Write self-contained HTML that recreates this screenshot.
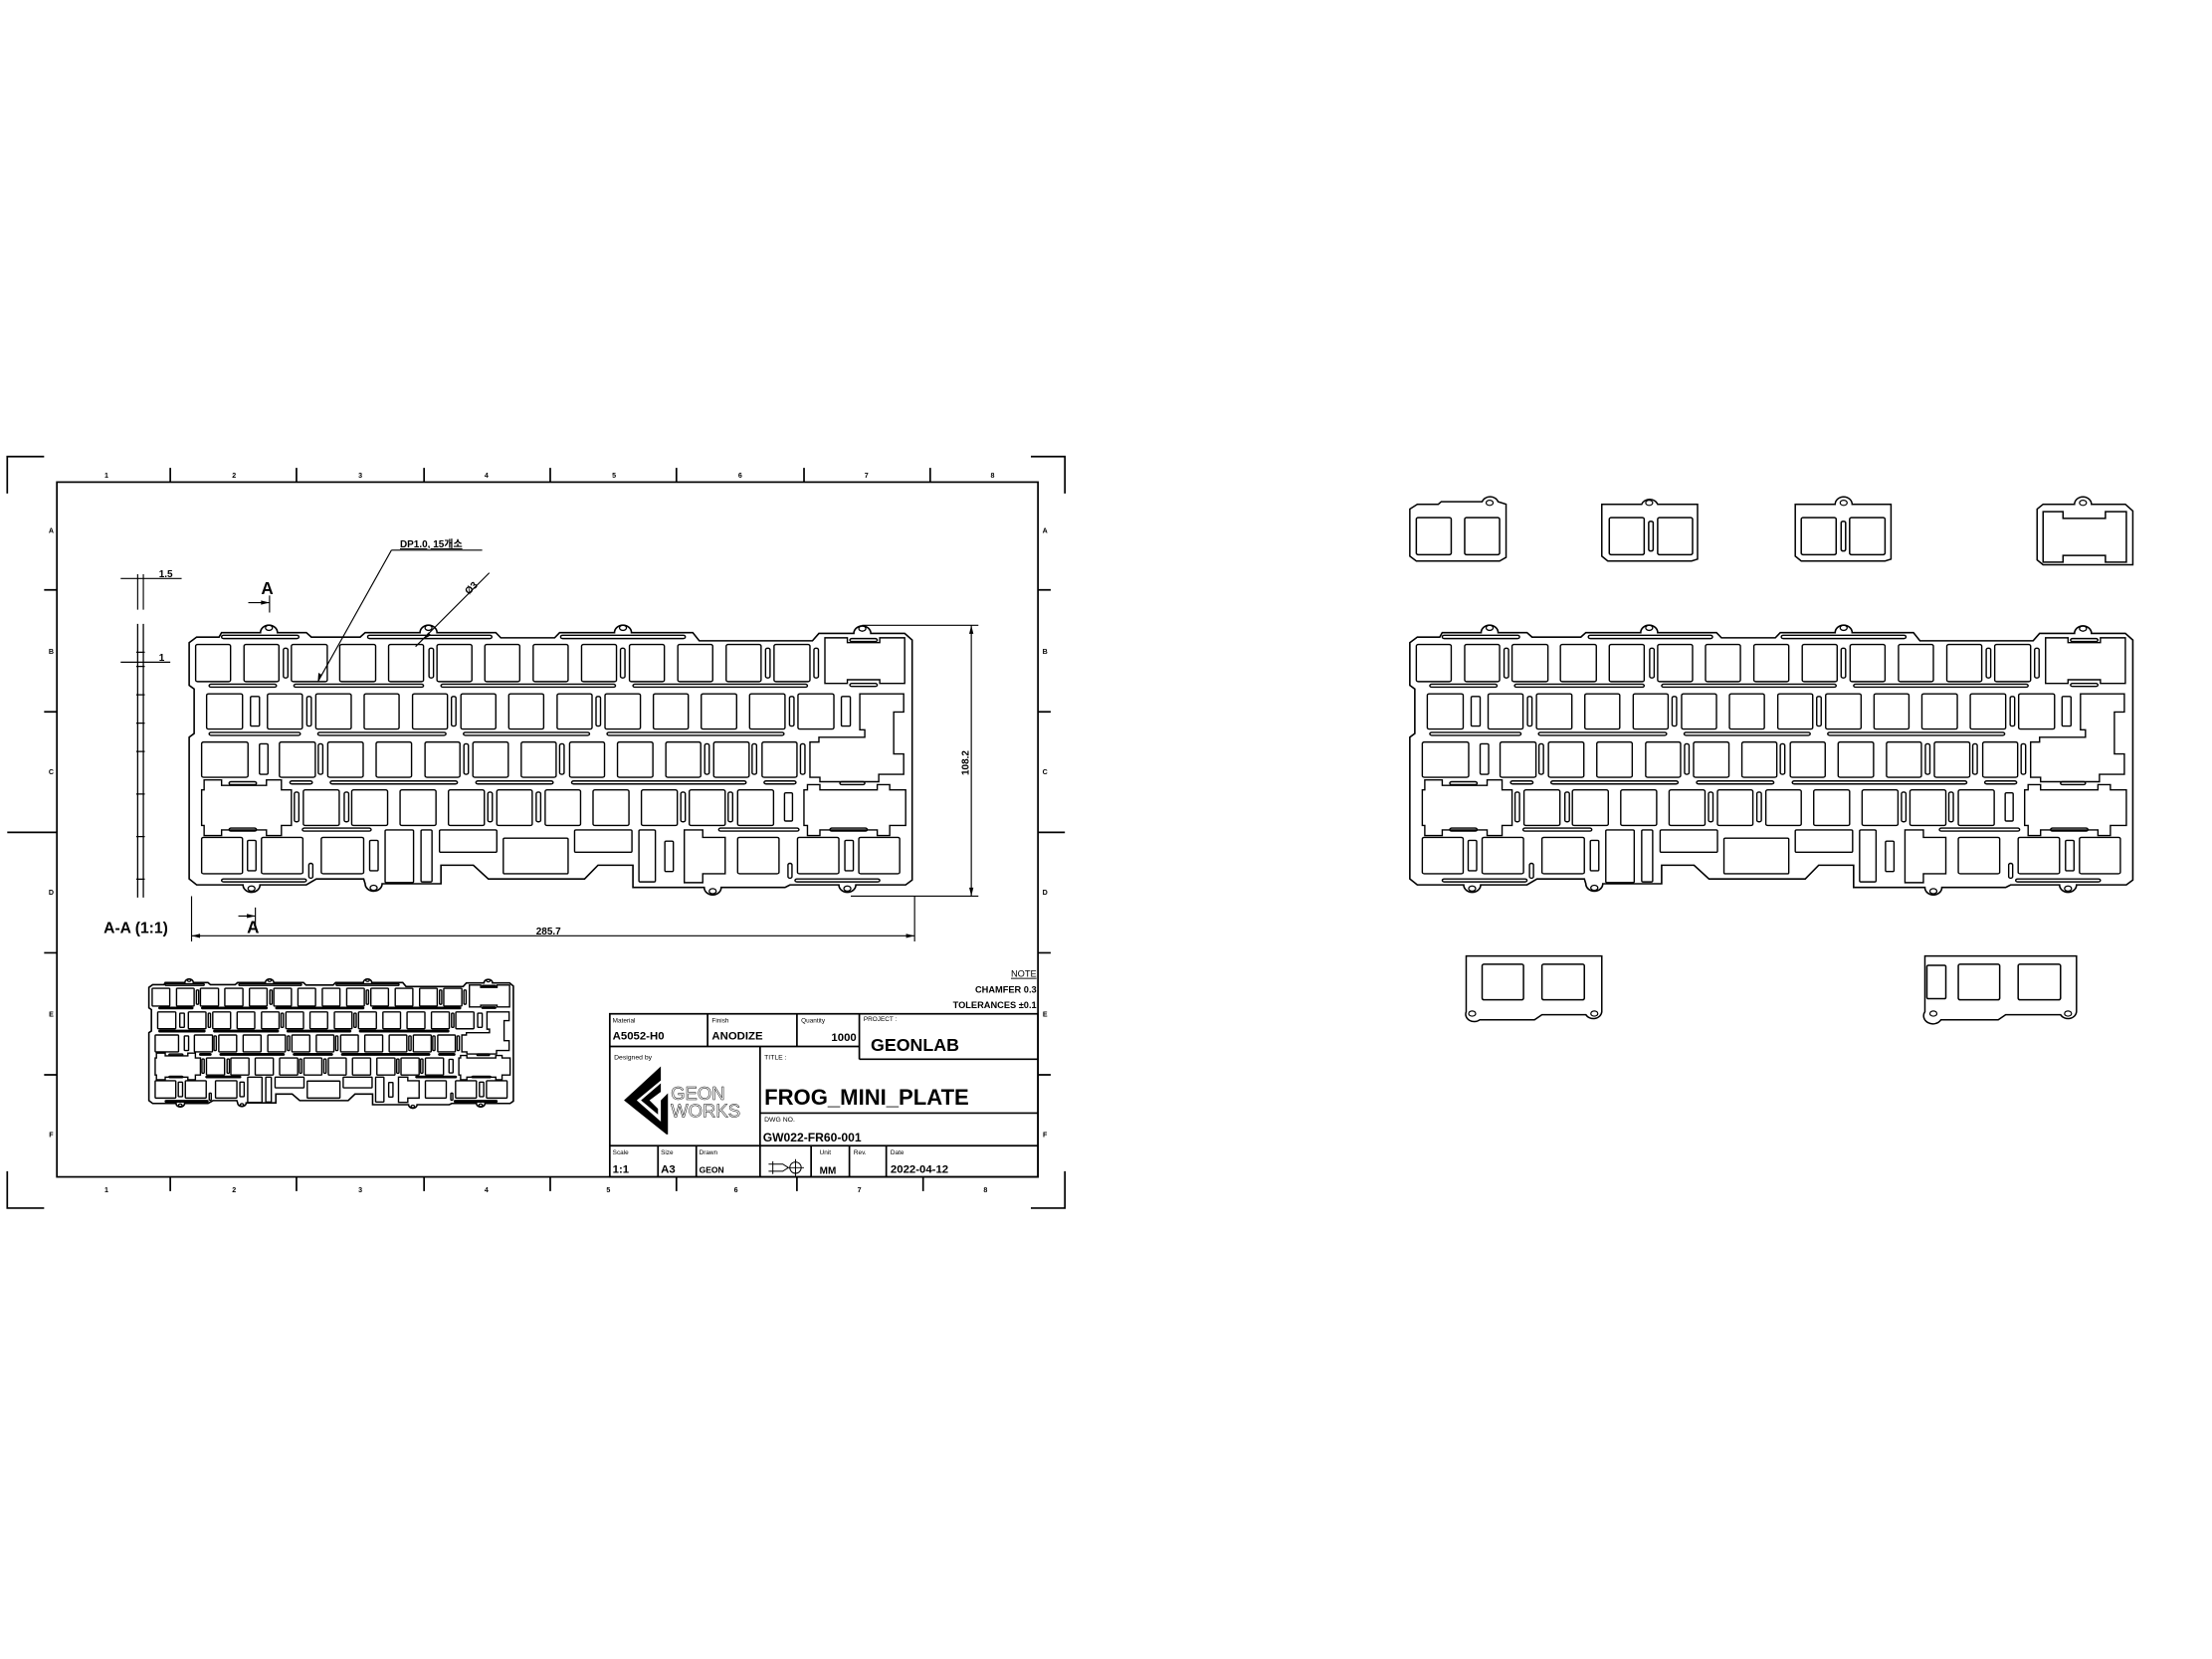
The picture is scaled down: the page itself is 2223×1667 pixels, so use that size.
<!DOCTYPE html>
<html><head><meta charset="utf-8"><style>
html,body{margin:0;padding:0;background:#fff;}
svg{display:block;}
text{font-family:"Liberation Sans","Noto Sans CJK KR",sans-serif;fill:#000;}
.b{font-weight:bold;}
</style></head><body>
<svg width="2223" height="1667" viewBox="0 0 1560 1170" xmlns="http://www.w3.org/2000/svg">
<defs>
<g id="plate" fill="none" stroke="#000">
<path vector-effect="non-scaling-stroke" stroke-width="1.6" d="M35,445 L50,430 L95,430 L100,418 L178,418 A17 20 0 0 1 212,418 L270,418 L280,430 L378,430 L388,418 L498,418 A17 20 0 0 1 532,418 L650,418 L660,432 L768,432 L778,418 L888,418 A17 20 0 0 1 922,418 L1045,418 L1058,440 L1285,440 L1298,420 L1368,420 A17 20 0 0 1 1402,420 L1470,420 L1485,438 L1485,1085 L1472,1098 L1372,1098 A17 20 0 0 1 1338,1098 L1240,1098 L1230,1105 L1102,1105 A17 20 0 0 1 1068,1105 L925,1105 L925,1045 L855,1045 L828,1082 L635,1082 L605,1045 L540,1045 L540,1095 L422,1095 A17 20 0 0 1 388,1095 L385,1082 L290,1082 L270,1098 L177,1098 A17 20 0 0 1 143,1098 L50,1098 L35,1082 L35,700 L45,690 L45,570 L35,560 Z"/>
<g vector-effect="non-scaling-stroke" stroke-width="1.3">
<circle vector-effect="non-scaling-stroke" cx="195" cy="405" r="7"/><circle vector-effect="non-scaling-stroke" cx="515" cy="405" r="7"/><circle vector-effect="non-scaling-stroke" cx="905" cy="405" r="7"/><circle vector-effect="non-scaling-stroke" cx="1385" cy="407" r="7"/>
<circle vector-effect="non-scaling-stroke" cx="160" cy="1108" r="7"/><circle vector-effect="non-scaling-stroke" cx="405" cy="1106" r="7"/><circle vector-effect="non-scaling-stroke" cx="1085" cy="1115" r="7"/><circle vector-effect="non-scaling-stroke" cx="1355" cy="1108" r="7"/>
</g>
<g stroke-width="1.4">
<rect vector-effect="non-scaling-stroke" x="48" y="450" width="70" height="100" rx="4"/><rect vector-effect="non-scaling-stroke" x="145" y="450" width="70" height="100" rx="4"/><rect vector-effect="non-scaling-stroke" x="240" y="450" width="72" height="100" rx="4"/><rect vector-effect="non-scaling-stroke" x="337" y="450" width="72" height="100" rx="4"/><rect vector-effect="non-scaling-stroke" x="435" y="450" width="70" height="100" rx="4"/><rect vector-effect="non-scaling-stroke" x="532" y="450" width="70" height="100" rx="4"/><rect vector-effect="non-scaling-stroke" x="628" y="450" width="70" height="100" rx="4"/><rect vector-effect="non-scaling-stroke" x="725" y="450" width="70" height="100" rx="4"/><rect vector-effect="non-scaling-stroke" x="822" y="450" width="70" height="100" rx="4"/><rect vector-effect="non-scaling-stroke" x="918" y="450" width="70" height="100" rx="4"/><rect vector-effect="non-scaling-stroke" x="1015" y="450" width="70" height="100" rx="4"/><rect vector-effect="non-scaling-stroke" x="1112" y="450" width="70" height="100" rx="4"/><rect vector-effect="non-scaling-stroke" x="1208" y="450" width="72" height="100" rx="4"/>
<polygon vector-effect="non-scaling-stroke" points="1310,432 1355,432 1355,445 1420,445 1420,432 1470,432 1470,555 1420,555 1420,545 1355,545 1355,555 1310,555"/>
<rect vector-effect="non-scaling-stroke" x="224" y="460" width="9" height="80" rx="4"/><rect vector-effect="non-scaling-stroke" x="516" y="460" width="9" height="80" rx="4"/><rect vector-effect="non-scaling-stroke" x="900" y="460" width="9" height="80" rx="4"/><rect vector-effect="non-scaling-stroke" x="1191" y="460" width="9" height="80" rx="4"/><rect vector-effect="non-scaling-stroke" x="1288" y="460" width="9" height="80" rx="4"/>
<rect vector-effect="non-scaling-stroke" x="70" y="583" width="72" height="95" rx="4"/><rect vector-effect="non-scaling-stroke" x="192" y="583" width="70" height="95" rx="4"/><rect vector-effect="non-scaling-stroke" x="289" y="583" width="71" height="95" rx="4"/><rect vector-effect="non-scaling-stroke" x="386" y="583" width="70" height="95" rx="4"/><rect vector-effect="non-scaling-stroke" x="483" y="583" width="70" height="95" rx="4"/><rect vector-effect="non-scaling-stroke" x="580" y="583" width="70" height="95" rx="4"/><rect vector-effect="non-scaling-stroke" x="676" y="583" width="70" height="95" rx="4"/><rect vector-effect="non-scaling-stroke" x="773" y="583" width="70" height="95" rx="4"/><rect vector-effect="non-scaling-stroke" x="869" y="583" width="71" height="95" rx="4"/><rect vector-effect="non-scaling-stroke" x="966" y="583" width="70" height="95" rx="4"/><rect vector-effect="non-scaling-stroke" x="1062" y="583" width="71" height="95" rx="4"/><rect vector-effect="non-scaling-stroke" x="1159" y="583" width="71" height="95" rx="4"/><rect vector-effect="non-scaling-stroke" x="1256" y="583" width="72" height="95" rx="4"/>
<rect vector-effect="non-scaling-stroke" x="158" y="590" width="18" height="80" rx="3"/><rect vector-effect="non-scaling-stroke" x="271" y="590" width="9" height="80" rx="4"/><rect vector-effect="non-scaling-stroke" x="561" y="590" width="9" height="80" rx="4"/><rect vector-effect="non-scaling-stroke" x="851" y="590" width="9" height="80" rx="4"/><rect vector-effect="non-scaling-stroke" x="1239" y="590" width="9" height="80" rx="4"/><rect vector-effect="non-scaling-stroke" x="1343" y="590" width="18" height="80" rx="3"/>
<polygon vector-effect="non-scaling-stroke" points="1380,583 1468,583 1468,632 1448,632 1448,745 1468,745 1468,800 1418,800 1418,820 1300,820 1300,808 1280,808 1280,713 1298,713 1298,700 1390,700 1390,680 1380,680"/>
<rect vector-effect="non-scaling-stroke" x="60" y="713" width="93" height="95" rx="4"/><rect vector-effect="non-scaling-stroke" x="216" y="713" width="72" height="95" rx="4"/><rect vector-effect="non-scaling-stroke" x="313" y="713" width="71" height="95" rx="4"/><rect vector-effect="non-scaling-stroke" x="410" y="713" width="71" height="95" rx="4"/><rect vector-effect="non-scaling-stroke" x="508" y="713" width="70" height="95" rx="4"/><rect vector-effect="non-scaling-stroke" x="604" y="713" width="71" height="95" rx="4"/><rect vector-effect="non-scaling-stroke" x="701" y="713" width="70" height="95" rx="4"/><rect vector-effect="non-scaling-stroke" x="798" y="713" width="70" height="95" rx="4"/><rect vector-effect="non-scaling-stroke" x="894" y="713" width="71" height="95" rx="4"/><rect vector-effect="non-scaling-stroke" x="991" y="713" width="70" height="95" rx="4"/><rect vector-effect="non-scaling-stroke" x="1087" y="713" width="71" height="95" rx="4"/><rect vector-effect="non-scaling-stroke" x="1184" y="713" width="70" height="95" rx="4"/>
<rect vector-effect="non-scaling-stroke" x="176" y="718" width="17" height="82" rx="3"/><rect vector-effect="non-scaling-stroke" x="294" y="718" width="9" height="82" rx="4"/><rect vector-effect="non-scaling-stroke" x="586" y="718" width="9" height="82" rx="4"/><rect vector-effect="non-scaling-stroke" x="778" y="718" width="9" height="82" rx="4"/><rect vector-effect="non-scaling-stroke" x="1069" y="718" width="9" height="82" rx="4"/><rect vector-effect="non-scaling-stroke" x="1164" y="718" width="9" height="82" rx="4"/><rect vector-effect="non-scaling-stroke" x="1261" y="718" width="9" height="82" rx="4"/>
<polygon vector-effect="non-scaling-stroke" points="65,815 100,815 100,830 190,830 190,815 220,815 220,842 240,842 240,938 220,938 220,965 190,965 190,950 100,950 100,965 65,965 65,938 60,938 60,842 65,842"/>
<rect vector-effect="non-scaling-stroke" x="264" y="842" width="72" height="96" rx="4"/><rect vector-effect="non-scaling-stroke" x="361" y="842" width="72" height="96" rx="4"/><rect vector-effect="non-scaling-stroke" x="458" y="842" width="72" height="96" rx="4"/><rect vector-effect="non-scaling-stroke" x="555" y="842" width="72" height="96" rx="4"/><rect vector-effect="non-scaling-stroke" x="652" y="842" width="71" height="96" rx="4"/><rect vector-effect="non-scaling-stroke" x="749" y="842" width="71" height="96" rx="4"/><rect vector-effect="non-scaling-stroke" x="845" y="842" width="72" height="96" rx="4"/><rect vector-effect="non-scaling-stroke" x="942" y="842" width="72" height="96" rx="4"/><rect vector-effect="non-scaling-stroke" x="1038" y="842" width="72" height="96" rx="4"/><rect vector-effect="non-scaling-stroke" x="1135" y="842" width="72" height="96" rx="4"/>
<rect vector-effect="non-scaling-stroke" x="246" y="848" width="9" height="80" rx="4"/><rect vector-effect="non-scaling-stroke" x="346" y="848" width="9" height="80" rx="4"/><rect vector-effect="non-scaling-stroke" x="634" y="848" width="9" height="80" rx="4"/><rect vector-effect="non-scaling-stroke" x="731" y="848" width="9" height="80" rx="4"/><rect vector-effect="non-scaling-stroke" x="1021" y="848" width="9" height="80" rx="4"/><rect vector-effect="non-scaling-stroke" x="1116" y="848" width="9" height="80" rx="4"/><rect vector-effect="non-scaling-stroke" x="1229" y="850" width="16" height="76" rx="3"/>
<polygon vector-effect="non-scaling-stroke" points="1275,828 1300,828 1300,842 1415,842 1415,828 1440,828 1440,842 1472,842 1472,938 1440,938 1440,965 1415,965 1415,950 1300,950 1300,965 1275,965 1275,938 1268,938 1268,842 1275,842"/>
<rect vector-effect="non-scaling-stroke" x="60" y="970" width="82" height="98" rx="4"/><rect vector-effect="non-scaling-stroke" x="180" y="970" width="83" height="98" rx="4"/><rect vector-effect="non-scaling-stroke" x="300" y="970" width="85" height="98" rx="4"/><rect vector-effect="non-scaling-stroke" x="1135" y="970" width="83" height="98" rx="4"/><rect vector-effect="non-scaling-stroke" x="1255" y="970" width="83" height="98" rx="4"/><rect vector-effect="non-scaling-stroke" x="1378" y="970" width="82" height="98" rx="4"/>
<rect vector-effect="non-scaling-stroke" x="152" y="978" width="17" height="82" rx="3"/><rect vector-effect="non-scaling-stroke" x="397" y="978" width="17" height="82" rx="3"/><rect vector-effect="non-scaling-stroke" x="1350" y="978" width="17" height="82" rx="3"/><rect vector-effect="non-scaling-stroke" x="989" y="980" width="17" height="82" rx="3"/>
<rect vector-effect="non-scaling-stroke" x="428" y="950" width="57" height="142" rx="3"/><rect vector-effect="non-scaling-stroke" x="500" y="950" width="22" height="140" rx="3"/><rect vector-effect="non-scaling-stroke" x="537" y="950" width="115" height="60" rx="3"/><rect vector-effect="non-scaling-stroke" x="665" y="972" width="130" height="96" rx="3"/><rect vector-effect="non-scaling-stroke" x="808" y="950" width="115" height="60" rx="3"/><rect vector-effect="non-scaling-stroke" x="937" y="950" width="33" height="140" rx="3"/>
<polygon vector-effect="non-scaling-stroke" points="1028,950 1065,950 1065,970 1110,970 1110,1068 1065,1068 1065,1092 1028,1092"/>
<rect vector-effect="non-scaling-stroke" x="100" y="425" width="155" height="9" rx="4"/><rect vector-effect="non-scaling-stroke" x="393" y="425" width="249" height="9" rx="4"/><rect vector-effect="non-scaling-stroke" x="780" y="425" width="250" height="9" rx="4"/><rect vector-effect="non-scaling-stroke" x="1360" y="434" width="55" height="8" rx="4"/>
<rect vector-effect="non-scaling-stroke" x="75" y="557" width="135" height="8" rx="4"/><rect vector-effect="non-scaling-stroke" x="245" y="557" width="260" height="8" rx="4"/><rect vector-effect="non-scaling-stroke" x="540" y="557" width="350" height="8" rx="4"/><rect vector-effect="non-scaling-stroke" x="925" y="557" width="350" height="8" rx="4"/><rect vector-effect="non-scaling-stroke" x="1360" y="555" width="55" height="8" rx="4"/>
<rect vector-effect="non-scaling-stroke" x="75" y="687" width="183" height="8" rx="4"/><rect vector-effect="non-scaling-stroke" x="293" y="687" width="257" height="8" rx="4"/><rect vector-effect="non-scaling-stroke" x="585" y="687" width="253" height="8" rx="4"/><rect vector-effect="non-scaling-stroke" x="873" y="687" width="355" height="8" rx="4"/>
<rect vector-effect="non-scaling-stroke" x="115" y="820" width="55" height="8" rx="4"/><rect vector-effect="non-scaling-stroke" x="237" y="818" width="45" height="8" rx="4"/><rect vector-effect="non-scaling-stroke" x="318" y="818" width="255" height="8" rx="4"/><rect vector-effect="non-scaling-stroke" x="610" y="818" width="155" height="8" rx="4"/><rect vector-effect="non-scaling-stroke" x="802" y="818" width="350" height="8" rx="4"/><rect vector-effect="non-scaling-stroke" x="1188" y="818" width="64" height="8" rx="4"/><rect vector-effect="non-scaling-stroke" x="1340" y="820" width="50" height="8" rx="4"/>
<rect vector-effect="non-scaling-stroke" x="115" y="945" width="55" height="8" rx="4"/><rect vector-effect="non-scaling-stroke" x="262" y="945" width="138" height="8" rx="4"/><rect vector-effect="non-scaling-stroke" x="1097" y="945" width="161" height="8" rx="4"/><rect vector-effect="non-scaling-stroke" x="1320" y="945" width="75" height="8" rx="4"/>
<rect vector-effect="non-scaling-stroke" x="100" y="1082" width="170" height="8" rx="4"/><rect vector-effect="non-scaling-stroke" x="1250" y="1082" width="170" height="8" rx="4"/>
<rect vector-effect="non-scaling-stroke" x="275" y="1040" width="8" height="40" rx="4"/><rect vector-effect="non-scaling-stroke" x="1236" y="1040" width="8" height="40" rx="4"/>
</g>
</g>
</defs>

<use href="#plate" transform="translate(982,336.8) scale(0.3517,0.2616)"/>
<g transform="translate(982,336.8) scale(0.3517,0.2616)" fill="none" stroke="#000">
<g stroke-width="1.5">
<path vector-effect="non-scaling-stroke" d="M35,85 L50,72 L92,72 L98,65 L180,65 A17 20 0 0 1 212,65 L228,72 L228,215 L215,225 L48,225 L35,212 Z"/>
<rect vector-effect="non-scaling-stroke" x="48" y="108" width="70" height="100" rx="4"/><rect vector-effect="non-scaling-stroke" x="145" y="108" width="70" height="100" rx="4"/>
<path vector-effect="non-scaling-stroke" d="M420,72 L500,72 A17 20 0 0 1 532,72 L612,72 L612,220 L600,225 L432,225 L420,212 Z"/>
<rect vector-effect="non-scaling-stroke" x="435" y="108" width="70" height="100" rx="4"/><rect vector-effect="non-scaling-stroke" x="532" y="108" width="70" height="100" rx="4"/><rect vector-effect="non-scaling-stroke" x="514" y="118" width="9" height="80" rx="4"/>
<path vector-effect="non-scaling-stroke" d="M808,72 L888,72 A17 20 0 0 1 922,72 L1000,72 L1000,220 L988,225 L820,225 L808,212 Z"/>
<rect vector-effect="non-scaling-stroke" x="820" y="108" width="70" height="100" rx="4"/><rect vector-effect="non-scaling-stroke" x="917" y="108" width="71" height="100" rx="4"/><rect vector-effect="non-scaling-stroke" x="900" y="118" width="9" height="80" rx="4"/>
<path vector-effect="non-scaling-stroke" d="M1293,85 L1305,72 L1368,72 A17 20 0 0 1 1402,72 L1470,72 L1485,90 L1485,235 L1305,235 L1293,222 Z"/>
<polygon vector-effect="non-scaling-stroke" points="1305,92 1345,92 1345,110 1430,110 1430,92 1472,92 1472,228 1430,228 1430,210 1345,210 1345,228 1305,228"/>
<path vector-effect="non-scaling-stroke" d="M148,1290 L420,1290 L420,1440 A17 20 0 0 1 388,1448 L300,1448 L285,1462 L175,1462 A17 20 0 0 1 148,1440 Z"/>
<rect vector-effect="non-scaling-stroke" x="180" y="1312" width="83" height="96" rx="4"/><rect vector-effect="non-scaling-stroke" x="300" y="1312" width="85" height="96" rx="4"/>
<path vector-effect="non-scaling-stroke" d="M1068,1290 L1372,1290 L1372,1440 A17 20 0 0 1 1340,1448 L1230,1448 L1215,1462 L1100,1462 A17 20 0 0 1 1068,1440 Z"/>
<rect vector-effect="non-scaling-stroke" x="1072" y="1315" width="38" height="90" rx="3"/><rect vector-effect="non-scaling-stroke" x="1135" y="1312" width="83" height="96" rx="4"/><rect vector-effect="non-scaling-stroke" x="1255" y="1312" width="85" height="96" rx="4"/>
</g>
<g stroke-width="1.2">
<circle vector-effect="non-scaling-stroke" cx="195" cy="68" r="7"/><circle vector-effect="non-scaling-stroke" cx="515" cy="68" r="7"/><circle vector-effect="non-scaling-stroke" cx="905" cy="68" r="7"/><circle vector-effect="non-scaling-stroke" cx="1385" cy="68" r="7"/>
<circle vector-effect="non-scaling-stroke" cx="160" cy="1445" r="7"/><circle vector-effect="non-scaling-stroke" cx="405" cy="1445" r="7"/><circle vector-effect="non-scaling-stroke" cx="1085" cy="1445" r="7"/><circle vector-effect="non-scaling-stroke" cx="1355" cy="1445" r="7"/>
</g>
</g>

<g fill="none" stroke="#000" stroke-width="1.2">
<path d="M5,348 V322 H31 M727,322 H751 V348 M5,826 V852 H31 M727,852 H751 V826"/>
<rect x="40" y="340" width="692" height="490"/>
<path d="M120,330 V340 M209,330 V340 M299,330 V340 M388,330 V340 M477,330 V340 M567,330 V340 M656,330 V340"/>
<path d="M120,830 V840 M209,830 V840 M299,830 V840 M388,830 V840 M477,830 V840 M562,830 V840 M651,830 V840"/>
<path d="M31,416 H40 M31,502 H40 M5,587 H40 M31,672 H40 M31,758 H40"/>
<path d="M732,416 H741 M732,502 H741 M732,587 H751 M732,672 H741 M732,758 H741"/>
</g>
<g class="b" font-size="5" text-anchor="middle">
<text x="75" y="337">1</text><text x="165" y="337">2</text><text x="254" y="337">3</text><text x="343" y="337">4</text><text x="433" y="337">5</text><text x="522" y="337">6</text><text x="611" y="337">7</text><text x="700" y="337">8</text>
<text x="75" y="841">1</text><text x="165" y="841">2</text><text x="254" y="841">3</text><text x="343" y="841">4</text><text x="429" y="841">5</text><text x="519" y="841">6</text><text x="606" y="841">7</text><text x="695" y="841">8</text>
<text x="36" y="376">A</text><text x="36" y="461">B</text><text x="36" y="546">C</text><text x="36" y="631">D</text><text x="36" y="717">E</text><text x="36" y="802">F</text>
<text x="737" y="376">A</text><text x="737" y="461">B</text><text x="737" y="546">C</text><text x="737" y="631">D</text><text x="737" y="717">E</text><text x="737" y="802">F</text>
</g>

<use href="#plate" transform="translate(121,336.8) scale(0.3517,0.2616)"/>
<use href="#plate" transform="translate(98.7,640.6) scale(0.1773,0.1253)"/>

<g stroke="#000" stroke-width="0.8" fill="none">
<path d="M135,632 V664 M645,632 V664 M135,660 H645"/>
<path d="M608,441 H690 M600,632 H690 M685,441 V632"/>
<path d="M276,388 H340 M276,388 L224,481"/>
<path d="M345,404 L293,456"/>
<path d="M85,408 H128 M85,467 H120 M97,405 V430 M101,405 V430"/>
<path d="M175,425 H190 M190,420 V432 M168,646 H180 M180,640 V655"/>
</g>
<g fill="#000">
<polygon points="135,660 141,658.5 141,661.5"/><polygon points="645,660 639,658.5 639,661.5"/>
<polygon points="685,441 683.5,447 686.5,447"/><polygon points="685,632 683.5,626 686.5,626"/>
<polygon points="190,425 184,423.5 184,426.5"/><polygon points="180,646 174,644.5 174,647.5"/>
<polygon points="224,481 224.5,474.5 227,476"/><polygon points="298,451 302,446 304,448"/>
</g>
<g stroke="#000" stroke-width="0.9" fill="none">
<path d="M97,440 V633 M101,440 V633"/>
<path d="M96,460 H102 M96,470 H102 M96,490 H102 M96,510 H102 M96,530 H102 M96,560 H102 M96,590 H102 M96,620 H102"/>
</g>
<g class="b">
<text x="112" y="407" font-size="7">1.5</text>
<text x="112" y="466" font-size="7">1</text>
<text x="184" y="419" font-size="12">A</text>
<text x="174" y="658" font-size="12">A</text>
<text x="73" y="658" font-size="11">A-A (1:1)</text>
<text x="378" y="659" font-size="7">285.7</text>
<text x="683" y="538" font-size="7" transform="rotate(-90 683 538)" text-anchor="middle">108.2</text>
<text x="282" y="386" font-size="7" text-decoration="underline">DP1.0, 15개소</text>
<text x="327" y="417" font-size="7" transform="rotate(-45 332 414)">Ø3</text>
<text x="731" y="689" font-size="6.5" text-anchor="end" text-decoration="underline" font-weight="normal">NOTE</text>
<text x="731" y="700" font-size="6.5" text-anchor="end">CHAMFER 0.3</text>
<text x="731" y="711" font-size="6.5" text-anchor="end">TOLERANCES ±0.1</text>
</g>

<g fill="none" stroke="#000" stroke-width="1.2">
<rect x="430" y="715" width="302" height="115"/>
<path d="M430,738 H606 M606,747 H732 M536,785 H732 M536,808 H732 M430,808 H732"/>
<path d="M499,715 V738 M562,715 V738 M606,715 V747 M536,738 V830 M464,808 V830 M491,808 V830 M572,808 V830 M599,808 V830 M625,808 V830"/>
<path d="M542,821 H552 L556,823.5 L552,826 H542 M545,819 V828 M561,823.5 m-4,0 a4,4 0 1 0 8,0 a4,4 0 1 0 -8,0 M555,823.5 H567 M561,817.5 V829.5" stroke-width="0.7"/>
</g>
<g>
<text x="432" y="721" font-size="4.5">Material</text>
<text x="432" y="733" font-size="8" class="b">A5052-H0</text>
<text x="502" y="721" font-size="4.5">Finish</text>
<text x="502" y="733" font-size="8" class="b">ANODIZE</text>
<text x="565" y="721" font-size="4.5">Quantity</text>
<text x="604" y="734" font-size="8" class="b" text-anchor="end">1000</text>
<text x="609" y="720" font-size="4.5">PROJECT :</text>
<text x="614" y="741" font-size="12.5" class="b">GEONLAB</text>
<text x="433" y="747" font-size="4.8">Designed by</text>
<text x="539" y="747" font-size="4.8">TITLE :</text>
<text x="539" y="779" font-size="15.5" class="b">FROG_MINI_PLATE</text>
<text x="539" y="791" font-size="4.8">DWG NO.</text>
<text x="538" y="805" font-size="8.5" class="b">GW022-FR60-001</text>
<text x="432" y="814" font-size="4.5">Scale</text>
<text x="432" y="827" font-size="8" class="b">1:1</text>
<text x="466" y="814" font-size="4.5">Size</text>
<text x="466" y="827" font-size="8" class="b">A3</text>
<text x="493" y="814" font-size="4.5">Drawn</text>
<text x="493" y="827" font-size="6" class="b">GEON</text>
<text x="578" y="814" font-size="4.5">Unit</text>
<text x="578" y="828" font-size="7" class="b">MM</text>
<text x="602" y="814" font-size="4.5">Rev.</text>
<text x="628" y="814" font-size="4.5">Date</text>
<text x="628" y="827" font-size="8" class="b">2022-04-12</text>
<text x="473" y="775.5" font-size="13" stroke="#000" stroke-width="0.35" style="fill:none">GEON</text>
<text x="473" y="788" font-size="13" stroke="#000" stroke-width="0.35" style="fill:none">WORKS</text>
<polygon points="440,776 466,752 466,762 449,776 466,791 466,776 471,771 471,800 470,800" fill="#000"/>
<polygon points="452,776 466,764 466,770 458,776 464,782 464,786" fill="#000"/>
</g>
</svg>
</body></html>
